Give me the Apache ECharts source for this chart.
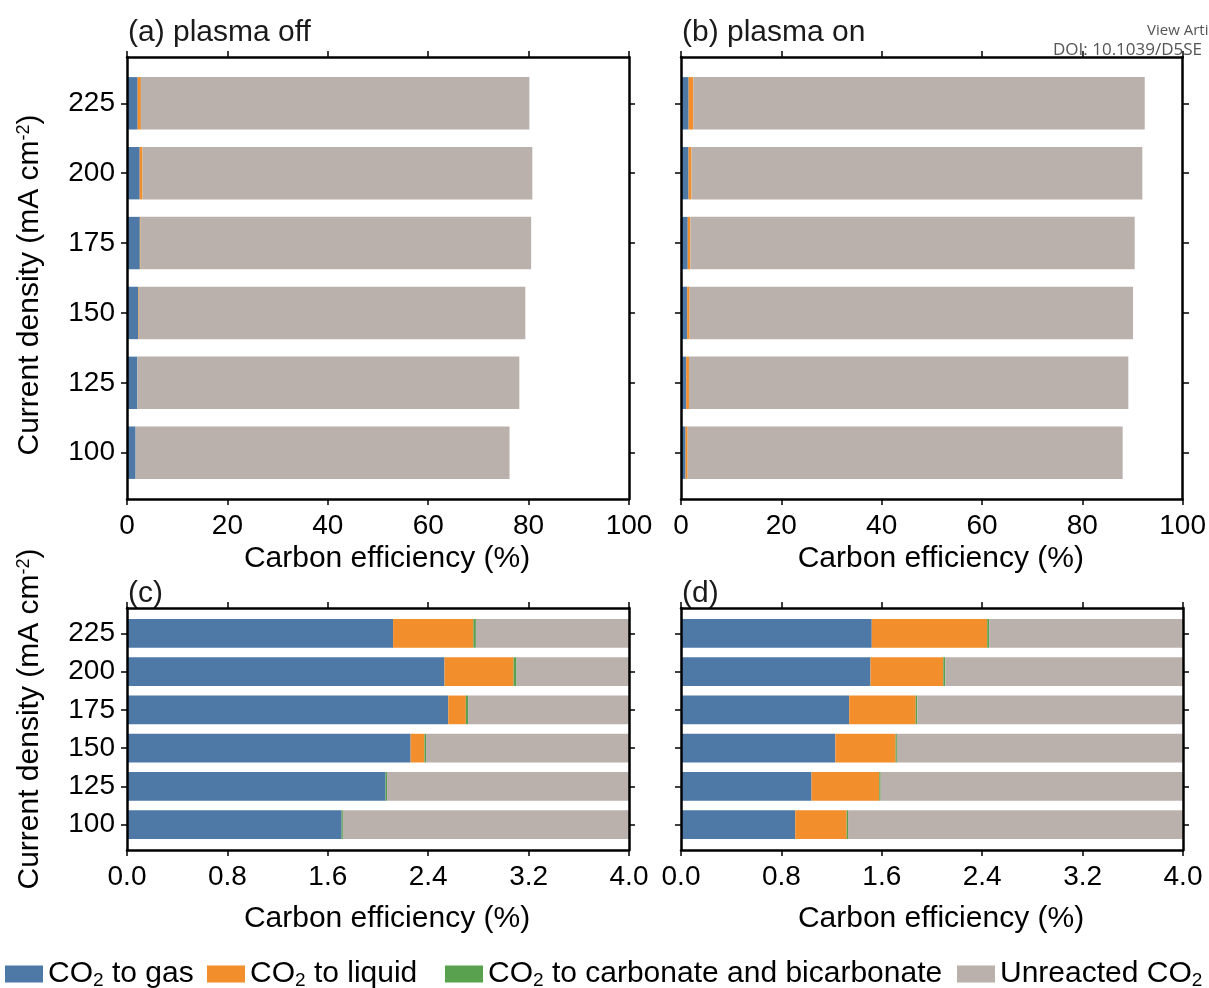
<!DOCTYPE html>
<html>
<head>
<meta charset="utf-8">
<script src="https://cdn.jsdelivr.net/npm/echarts@6/dist/echarts.min.js"></script>
<style>html,body{margin:0;padding:0;background:#fff;}#c{width:1209px;height:988px;}</style>
</head>
<body>
<div id="c"></div>
<script>
// ---- data ----
const categories = ['100', '125', '150', '175', '200', '225'];
const seriesNames = ['CO2 to gas', 'CO2 to liquid', 'CO2 to carbonate and bicarbonate', 'Unreacted CO2'];
// plasma off
const offGas = [1.71, 2.06, 2.26, 2.56, 2.53, 2.12];
const offLiquid = [0.0, 0.0, 0.11, 0.14, 0.55, 0.64];
const offCarbonate = [0.010, 0.012, 0.013, 0.018, 0.024, 0.020];
const offUnreacted = [74.48, 76.08, 76.96, 77.79, 77.64, 77.37];
// plasma on
const onGas = [0.91, 1.04, 1.23, 1.34, 1.51, 1.52];
const onLiquid = [0.41, 0.54, 0.48, 0.53, 0.58, 0.92];
const onCarbonate = [0.011, 0.011, 0.010, 0.013, 0.016, 0.016];
const onUnreacted = [86.65, 87.52, 88.32, 88.49, 89.79, 89.92];
// tick labels
const xTicksFull = [0, 20, 40, 60, 80, 100];
const xTicksZoom = [0.0, 0.8, 1.6, 2.4, 3.2, 4.0];
const panelTitles = ['(a) plasma off', '(b) plasma on', '(c)', '(d)'];
const xName = 'Carbon efficiency (%)';
const yName = 'Current density (mA cm{sup|-2})';

// ---- styles ----
const colors = ['#4e79a7', '#f28e2b', '#59a14f', '#bab0ac'];
const FONT = "'Liberation Sans', Arial, sans-serif";
const FS = 28;   // tick labels
const FN = 30;   // names, titles, legend
const legendRich = {
  n: {fontSize: FN, color: '#000', lineHeight: 32, fontFamily: FONT},
  sub: {fontSize: 19, color: '#000', lineHeight: 15, verticalAlign: 'bottom', fontFamily: FONT}
};
const legendText = {
  'CO2 to gas': '{n|CO}{sub|2}{n| to gas}',
  'CO2 to liquid': '{n|CO}{sub|2}{n| to liquid}',
  'CO2 to carbonate and bicarbonate': '{n|CO}{sub|2}{n| to carbonate and bicarbonate}',
  'Unreacted CO2': '{n|Unreacted CO}{sub|2}'
};

const panels = [
  {left: 127, top: 57, height: 442, ticks: xTicksFull, dec: 0, yLabels: true, data: [offGas, offLiquid, offCarbonate, offUnreacted], nameGap: 15, yPad: [0, 14, 0, 0]},
  {left: 681, top: 57, height: 442, ticks: xTicksFull, dec: 0, yLabels: false, data: [onGas, onLiquid, onCarbonate, onUnreacted], nameGap: 15},
  {left: 127, top: 608, height: 242, ticks: xTicksZoom, dec: 1, yLabels: true, data: [offGas, offLiquid, offCarbonate, offUnreacted], nameGap: 24, yPad: [0, 0, 0, 20]},
  {left: 681, top: 608, height: 242, ticks: xTicksZoom, dec: 1, yLabels: false, data: [onGas, onLiquid, onCarbonate, onUnreacted], nameGap: 24}
];
const PW = 502;

const grid = [], xAxis = [], yAxis = [], series = [], title = [];
const black = '#000';
const frameLine = {show: true, onZero: false, lineStyle: {color: black, width: 2.5}};
const tickStyle = {show: true, length: 6, lineStyle: {color: black, width: 1.5}};
panels.forEach((p, i) => {
  const off = p.height * 0.1625 / 6.325;
  const xmin = p.ticks[0], xmax = p.ticks[p.ticks.length - 1], step = p.ticks[1] - p.ticks[0];
  const gF = grid.length;
  grid.push({left: p.left, top: p.top, width: PW, height: p.height});
  const gB = grid.length;
  grid.push({left: p.left, top: p.top + off, width: PW, height: p.height - 2 * off});
  const fmt = v => Number(v).toFixed(p.dec);
  // frame x axes
  xAxis.push({gridIndex: gF, type: 'value', min: xmin, max: xmax, interval: step, position: 'bottom', z: 10,
    axisLine: frameLine, axisTick: tickStyle,
    axisLabel: {show: true, fontSize: FS, color: black, margin: 13, formatter: fmt, fontFamily: FONT},
    splitLine: {show: false},
    name: xName, nameLocation: 'middle', nameGap: p.nameGap + FN,
    nameTextStyle: {fontSize: FN, color: black, fontFamily: FONT, padding: [0, 0, 0, 18]}});
  xAxis.push({gridIndex: gF, type: 'value', min: xmin, max: xmax, interval: step, position: 'top', z: 10,
    axisLine: frameLine, axisTick: tickStyle,
    axisLabel: {show: false}, splitLine: {show: false}});
  // bar x axis (hidden)
  const xB = xAxis.length;
  xAxis.push({gridIndex: gB, type: 'value', min: xmin, max: xmax, show: false});
  // frame y axes
  const yf = {gridIndex: gF, type: 'value', min: 0, max: 1, position: 'left', z: 10,
    axisLine: frameLine, axisTick: {show: false}, axisLabel: {show: false}, splitLine: {show: false}};
  if (p.yLabels) {
    Object.assign(yf, {name: yName, nameLocation: 'middle', nameGap: 82,
      nameTextStyle: {fontSize: FN, color: black, fontFamily: FONT, padding: p.yPad,
        rich: {sup: {fontSize: 18, lineHeight: 14, verticalAlign: 'top', color: black, fontFamily: FONT}}}});
  }
  yAxis.push(yf);
  yAxis.push({gridIndex: gF, type: 'value', min: 0, max: 1, position: 'right', z: 10,
    axisLine: frameLine, axisTick: {show: false}, axisLabel: {show: false}, splitLine: {show: false}});
  // bar y axes
  const yB = yAxis.length;
  yAxis.push({gridIndex: gB, type: 'category', data: categories, position: 'left', z: 10,
    axisLine: {show: false, onZero: false},
    axisTick: {show: true, alignWithLabel: true, length: 6, lineStyle: {color: black, width: 1.5}},
    axisLabel: {show: p.yLabels, fontSize: FS, color: black, margin: 12, fontFamily: FONT}});
  yAxis.push({gridIndex: gB, type: 'category', data: categories, position: 'right', z: 10,
    axisLine: {show: false, onZero: false},
    axisTick: {show: true, alignWithLabel: true, length: 6, lineStyle: {color: black, width: 1.5}},
    axisLabel: {show: false}});
  p.data.forEach((arr, k) => {
    series.push({type: 'bar', name: seriesNames[k], stack: 'p' + i, xAxisIndex: xB, yAxisIndex: yB,
      barWidth: '75%', data: arr, itemStyle: {color: colors[k]}, clip: true, silent: true, animation: false});
  });
  title.push({text: panelTitles[i], left: p.left + 1, top: (i < 2 ? 18 : 579), padding: 0,
    textStyle: {fontSize: FN, fontWeight: 'normal', color: '#1a1a1a', fontFamily: FONT}});
});

const legendLeft = [5, 207, 445, 957];
const legend = seriesNames.map((n, k) => ({
  data: [n], left: legendLeft[k], top: 959, padding: 0, icon: 'rect', itemWidth: 38, itemHeight: 17, itemGap: 6,
  selectedMode: false, formatter: name => legendText[name],
  textStyle: {fontSize: FN, color: black, fontFamily: FONT, rich: legendRich}
}));

const chart = echarts.init(document.getElementById('c'), null, {renderer: 'canvas'});
chart.setOption({
  animation: false,
  color: colors,
  textStyle: {fontFamily: FONT},
  title, grid, xAxis, yAxis, series, legend,
  graphic: [
    {type: 'text', left: 1147, top: 23, style: {text: 'View Arti', fontSize: 15, fill: '#555', fontFamily: "'Open Sans', sans-serif"}},
    {type: 'text', left: 1053, top: 42, style: {text: 'DOI: 10.1039/D5SE', fontSize: 17, fill: '#555', fontFamily: "'Open Sans', sans-serif"}}
  ]
});
</script>
</body>
</html>
